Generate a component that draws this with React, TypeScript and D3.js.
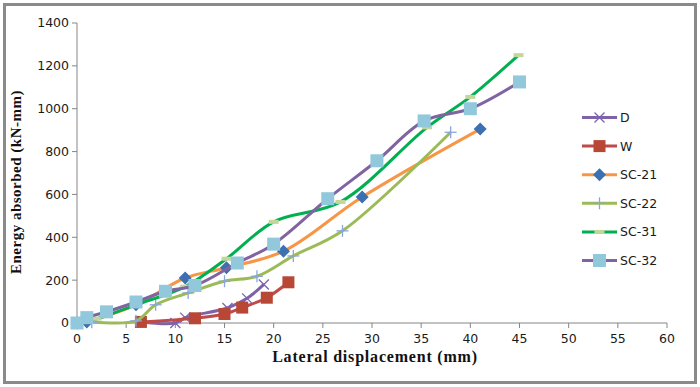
import React from "react";
import * as d3 from "d3";

const W = 700, H = 387;
const xTicks = [0, 5, 10, 15, 20, 25, 30, 35, 40, 45, 50, 55, 60];
const yTicks = [0, 200, 400, 600, 800, 1000, 1200, 1400];

const dX = [6.5, 10, 11, 15.3, 17.3, 19];
const dY = [5, 0, 25, 70, 115, 180];
const wX = [6.5, 12, 15, 16.8, 19.3, 21.5];
const wY = [5, 22, 42, 72, 118, 190];
const sc21X = [0, 1, 6, 11, 15.2, 21, 29, 41];
const sc21Y = [0, 5, 85, 210, 258, 335, 588, 905];
const sc22X = [0, 1.5, 6, 8, 11.3, 15, 18.3, 22, 27, 38];
const sc22Y = [0, 3, 10, 85, 140, 195, 218, 313, 430, 890];
const sc31X = [0, 2, 6, 11, 15.2, 20, 26.8, 35.6, 40, 44.9];
const sc31Y = [0, 20, 85, 170, 300, 472, 565, 913, 1055, 1250];
const sc32X = [0, 1, 3, 6, 9, 12, 16.3, 20, 25.5, 30.5, 35.3, 40, 45];
const sc32Y = [0, 25, 52, 98, 148, 175, 280, 368, 580, 757, 943, 1000, 1125];

type S = { name: string; xs: number[]; ys: number[]; line: string; marker: string; mfill: string };
const series: S[] = [
  { name: "D", xs: dX, ys: dY, line: "#7f63a6", marker: "x", mfill: "#7a62b0" },
  { name: "W", xs: wX, ys: wY, line: "#be4b48", marker: "square", mfill: "#b84736" },
  { name: "SC-21", xs: sc21X, ys: sc21Y, line: "#f79646", marker: "diamond", mfill: "#3d70b0" },
  { name: "SC-22", xs: sc22X, ys: sc22Y, line: "#9bbb59", marker: "plus", mfill: "#8aa6dc" },
  { name: "SC-31", xs: sc31X, ys: sc31Y, line: "#00b050", marker: "dash", mfill: "#c4d79b" },
  { name: "SC-32", xs: sc32X, ys: sc32Y, line: "#8064a2", marker: "square2", mfill: "#92c8dc" },
];

const x = d3.scaleLinear().domain([0, 60]).range([77, 667]);
const y = d3.scaleLinear().domain([0, 1400]).range([323, 23]);

function Marker({ type, cx, cy, fill }: { type: string; cx: number; cy: number; fill: string }) {
  switch (type) {
    case "x":
      return (
        <g stroke={fill} strokeWidth={1.3}>
          <line x1={cx - 5} y1={cy - 5} x2={cx + 5} y2={cy + 5} />
          <line x1={cx - 5} y1={cy + 5} x2={cx + 5} y2={cy - 5} />
        </g>
      );
    case "square":
      return <rect x={cx - 6} y={cy - 6} width={12} height={12} fill={fill} />;
    case "square2":
      return <rect x={cx - 6.5} y={cy - 6.5} width={13} height={13} fill={fill} />;
    case "diamond":
      return <path d={`M${cx},${cy - 6.5}L${cx + 6.5},${cy}L${cx},${cy + 6.5}L${cx - 6.5},${cy}Z`} fill={fill} />;
    case "plus":
      return (
        <g stroke={fill} strokeWidth={1.3}>
          <line x1={cx - 6} y1={cy} x2={cx + 6} y2={cy} />
          <line x1={cx} y1={cy - 6} x2={cx} y2={cy + 6} />
        </g>
      );
    case "dash":
      return <rect x={cx - 5} y={cy - 2} width={10} height={4} fill={fill} />;
  }
  return null;
}

export default function App() {
  const line = d3
    .line<[number, number]>()
    .x((d) => x(d[0]))
    .y((d) => y(d[1]))
    .curve(d3.curveCatmullRom.alpha(0.5));
  const font = "'DejaVu Sans', Verdana, sans-serif";
  const serif = "'Liberation Serif', 'Times New Roman', serif";
  const legendY0 = 117.5, legendStep = 28.6;
  return (
    <svg width={W} height={H} style={{ position: "absolute", left: 0, top: 0, background: "#fff" }}>
      <rect x={4.5} y={4.5} width={691} height={378} fill="#fff" stroke="#8a8a8a" strokeWidth={3} />
      {/* axes */}
      <line x1={77} y1={y(0)} x2={77} y2={y(1400)} stroke="#868686" strokeWidth={1} />
      <line x1={77} y1={y(0)} x2={667} y2={y(0)} stroke="#868686" strokeWidth={1} />
      {yTicks.map((t) => (
        <g key={"y" + t}>
          <line x1={72} x2={77} y1={y(t)} y2={y(t)} stroke="#868686" />
          <text x={69} y={y(t)} dy="0.35em" textAnchor="end" fontFamily={font} fontSize={12.5} fill="#1a1a1a">
            {t}
          </text>
        </g>
      ))}
      {xTicks.map((t) => (
        <g key={"x" + t}>
          <line x1={x(t)} x2={x(t)} y1={323} y2={328} stroke="#868686" />
          <text x={x(t)} y={343} textAnchor="middle" fontFamily={font} fontSize={12.5} fill="#1a1a1a">
            {t}
          </text>
        </g>
      ))}
      <text x={375} y={362} textAnchor="middle" fontFamily={serif} fontWeight="bold" fontSize={16} letterSpacing={0.8} fill="#111">
        Lateral displacement (mm)
      </text>
      <text
        transform={`translate(21,${(y(0) + y(1400)) / 2 + 9}) rotate(-90)`}
        textAnchor="middle"
        fontFamily={serif}
        fontWeight="bold"
        fontSize={15}
        letterSpacing={0.5}
        fill="#111"
      >
        Energy absorbed (kN-mm)
      </text>
      {/* series */}
      {series.map((s) => {
        const pts: [number, number][] = s.xs.map((v, i) => [v, s.ys[i]]);
        return (
          <g key={s.name}>
            <path d={line(pts) || ""} fill="none" stroke={s.line} strokeWidth={3} strokeLinejoin="round" />
            {pts.map((p, i) => (
              <Marker key={i} type={s.marker} cx={x(p[0])} cy={y(p[1])} fill={s.mfill} />
            ))}
          </g>
        );
      })}
      {/* legend */}
      {series.map((s, i) => {
        const ly = legendY0 + i * legendStep;
        return (
          <g key={"l" + s.name}>
            <line x1={582} x2={617} y1={ly} y2={ly} stroke={s.line} strokeWidth={3} />
            <Marker type={s.marker} cx={599.5} cy={ly} fill={s.mfill} />
            <text x={620} y={ly} dy="0.36em" fontFamily={font} fontSize={12.5} fill="#1a1a1a">
              {s.name}
            </text>
          </g>
        );
      })}
    </svg>
  );
}
